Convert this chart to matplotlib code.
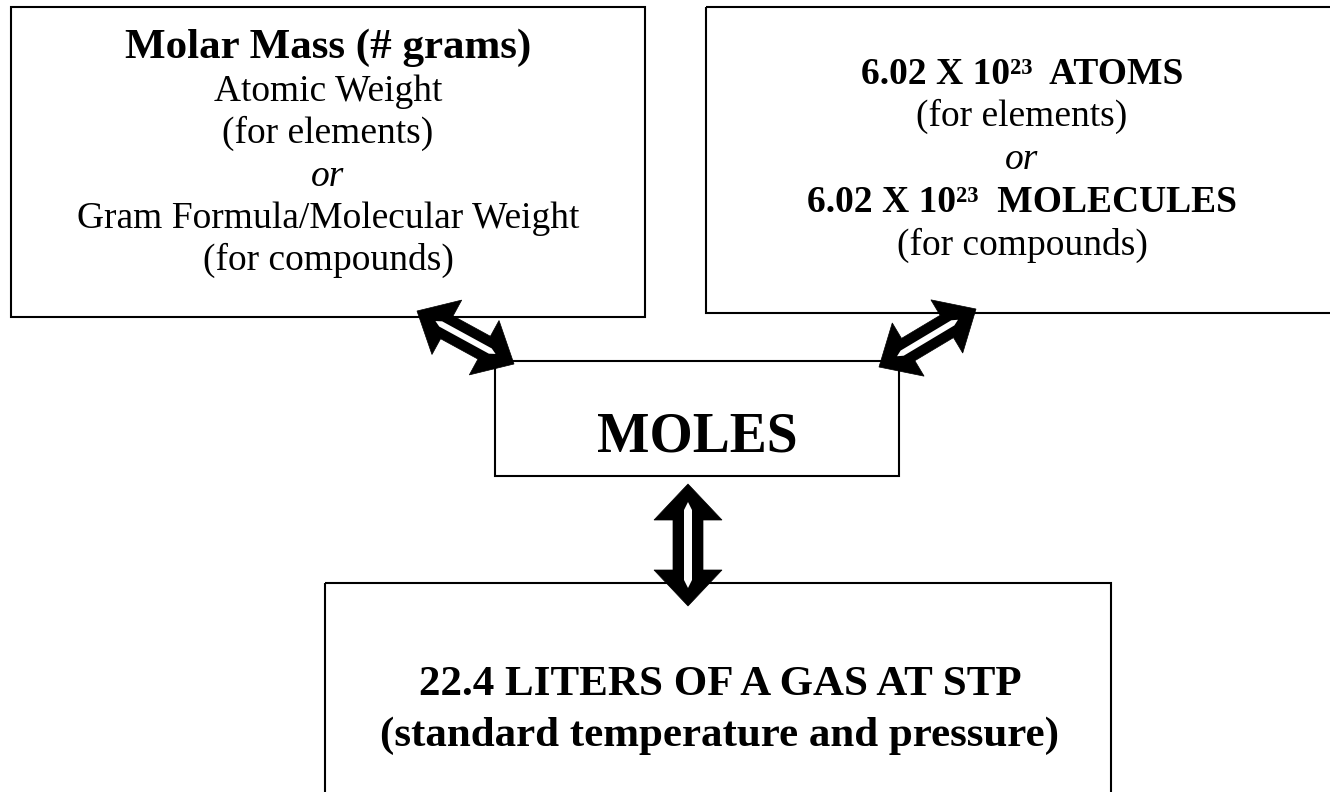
import numpy as np
import matplotlib.pyplot as plt
from matplotlib.patches import Rectangle, Polygon

plt.rcParams['font.family'] = ['Liberation Serif', 'DejaVu Serif']

# --- Diagram content ---
mass_lines = ["Molar Mass (# grams)", "Atomic Weight", "(for elements)", "or",
              "Gram Formula/Molecular Weight", "(for compounds)"]
particle_lines = ["6.02 X 10\u00b2\u00b3  ATOMS", "(for elements)", "or",
                  "6.02 X 10\u00b2\u00b3  MOLECULES", "(for compounds)"]
center_label = "MOLES"
gas_lines = ["22.4 LITERS OF A GAS AT STP", "(standard temperature and pressure)"]

# --- Layout (pixel coords, y down) ---
W, H = 1330, 792
fig = plt.figure(figsize=(W / 100, H / 100), dpi=100)
ax = fig.add_axes([0, 0, 1, 1])
ax.set_xlim(0, W)
ax.set_ylim(H, 0)
ax.axis("off")

# right box and bottom box run off the page edge
boxes = {
    "mass": (11, 7, 645, 317),
    "particles": (706, 7, 1338, 313),
    "moles": (495, 361, 899, 476),
    "gas": (325, 583, 1111, 800),
}
for x0, y0, x1, y1 in boxes.values():
    ax.add_patch(Rectangle((x0, y0), x1 - x0, y1 - y0, fill=False,
                           ec="black", lw=1.5, zorder=1))


def double_arrow(p0, p1, hl, hw, sw, slot_w, slot_pad):
    # black double-headed block arrow with a thin white slot down the middle
    p0, p1 = np.array(p0, float), np.array(p1, float)
    d = p1 - p0
    L = np.hypot(*d)
    u = d / L
    n = np.array([-u[1], u[0]])
    outer = [(0, 0), (hl, hw / 2), (hl, sw / 2), (L - hl, sw / 2), (L - hl, hw / 2),
             (L, 0), (L - hl, -hw / 2), (L - hl, -sw / 2), (hl, -sw / 2), (hl, -hw / 2)]
    inner = [(slot_pad, 0), (slot_pad + slot_w, slot_w / 2),
             (L - slot_pad - slot_w, slot_w / 2), (L - slot_pad, 0),
             (L - slot_pad - slot_w, -slot_w / 2), (slot_pad + slot_w, -slot_w / 2)]
    xy = lambda pts: [p0 + s * u + t * n for s, t in pts]
    ax.add_patch(Polygon(xy(outer), closed=True, fc="black", ec="black", lw=0.5, zorder=3))
    ax.add_patch(Polygon(xy(inner), closed=True, fc="white", ec="none", zorder=4))


double_arrow((417, 311), (514, 364), 34, 62, 26, 6, 21)
double_arrow((879, 367), (976, 309), 34, 62, 26, 6, 21)
double_arrow((688, 484), (688, 606), 36, 68, 30, 8, 18)

# --- Text ---
mass_y = [58, 101, 143, 186, 228, 270]
for i, (txt, y) in enumerate(zip(mass_lines, mass_y)):
    ax.text(328, y, txt, ha="center", va="baseline",
            fontsize=31 if i == 0 else 27,
            fontweight="bold" if i == 0 else "normal",
            fontstyle="italic" if txt == "or" else "normal")

particle_y = [84, 126, 169, 212, 255]
for i, (txt, y) in enumerate(zip(particle_lines, particle_y)):
    ax.text(1022, y, txt, ha="center", va="baseline", fontsize=27,
            fontweight="bold" if i in (0, 3) else "normal",
            fontstyle="italic" if txt == "or" else "normal")

ax.text(697, 452, center_label, ha="center", va="baseline", fontsize=40, fontweight="bold")

gas_y = [695, 746]
for txt, y in zip(gas_lines, gas_y):
    ax.text(720, y, txt, ha="center", va="baseline", fontsize=31, fontweight="bold")

fig.savefig("out.png", dpi=100, facecolor="white")
